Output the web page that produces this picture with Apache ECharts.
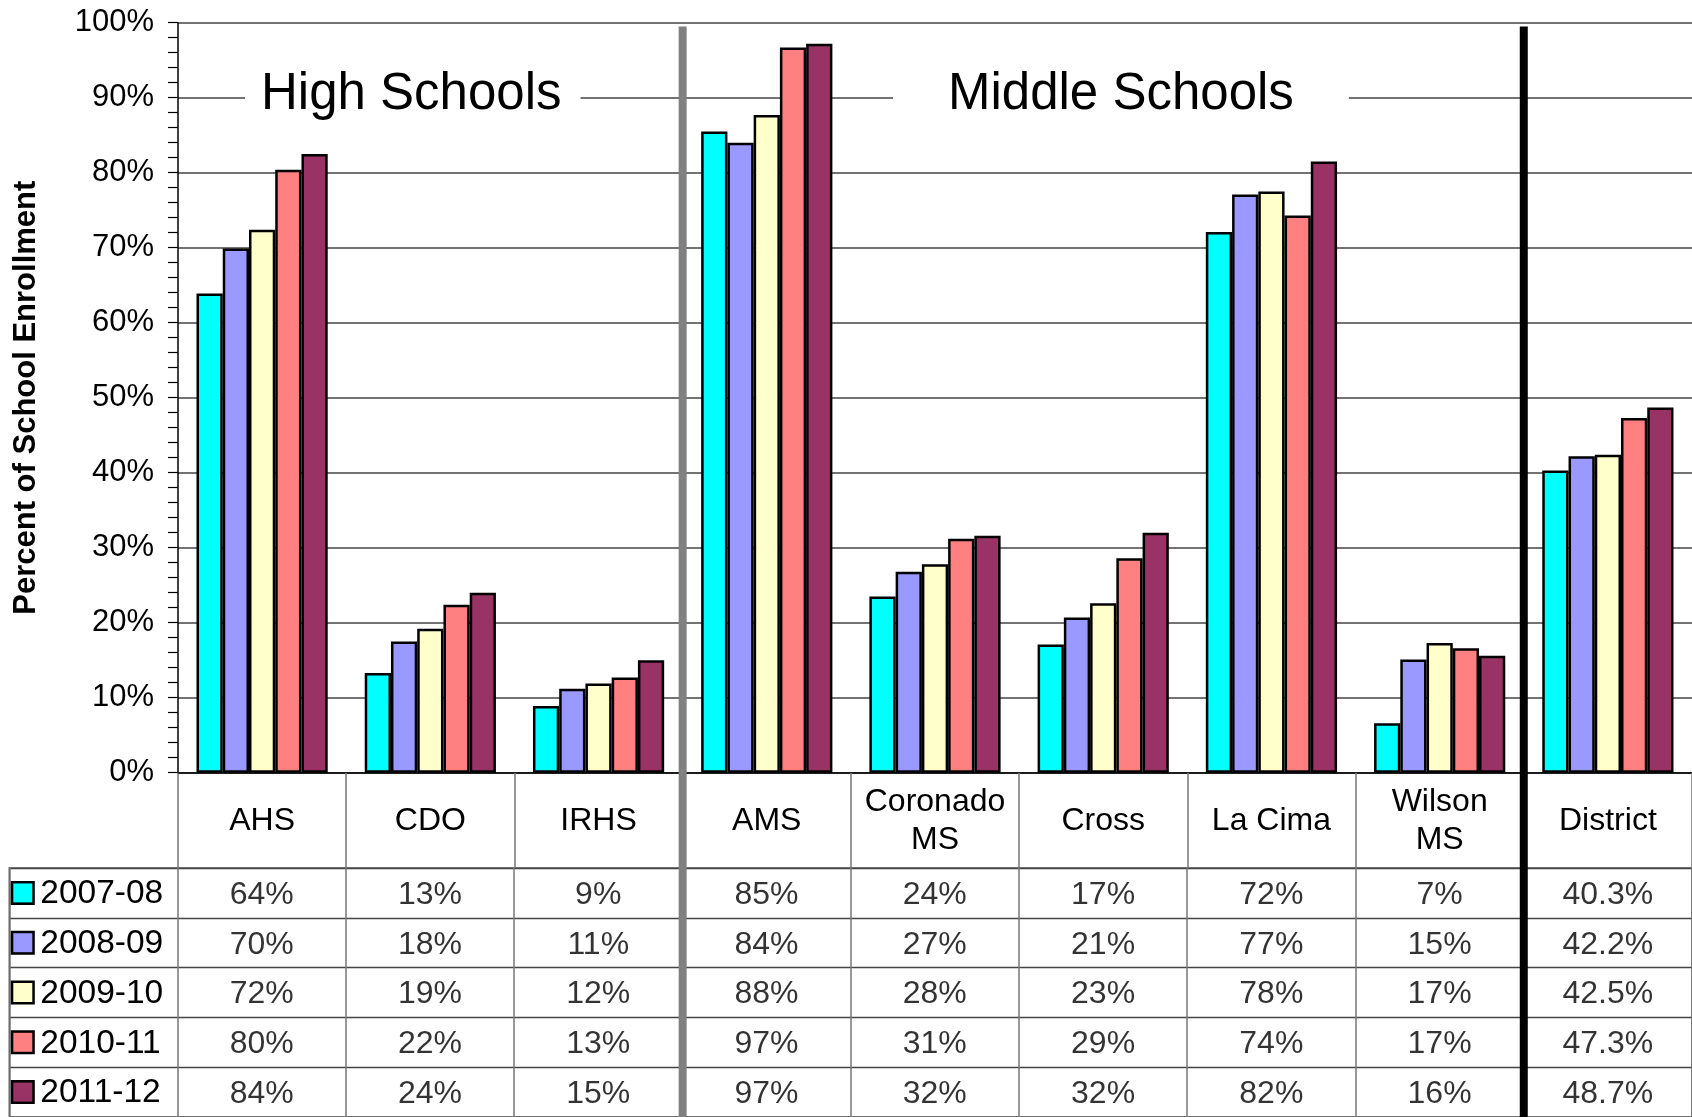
<!DOCTYPE html>
<html>
<head>
<meta charset="utf-8">
<script src="https://cdn.jsdelivr.net/npm/echarts@6.0.0/dist/echarts.min.js"></script>
<style>
html,body{margin:0;padding:0;background:#fff;}
#chart{width:1692px;height:1117px;}
</style>
</head>
<body>
<div id="chart"></div>
<script>
// ---- data ----
const categories = ['AHS', 'CDO', 'IRHS', 'AMS', 'Coronado\nMS', 'Cross', 'La Cima', 'Wilson\nMS', 'District'];
const years = ['2007-08', '2008-09', '2009-10', '2010-11', '2011-12'];
const v2007 = [63.9, 13.3, 8.9, 85.5, 23.5, 17.1, 72.1, 6.6, 40.3];
const v2008 = [69.9, 17.5, 11.2, 84.0, 26.8, 20.7, 77.1, 15.1, 42.2];
const v2009 = [72.4, 19.2, 11.9, 87.7, 27.8, 22.6, 77.5, 17.3, 42.4];
const v2010 = [80.4, 22.4, 12.7, 96.7, 31.2, 28.6, 74.3, 16.6, 47.3];
const v2011 = [82.5, 24.0, 15.0, 97.2, 31.6, 32.0, 81.5, 15.6, 48.7];
const t2007 = ['64%', '13%', '9%', '85%', '24%', '17%', '72%', '7%', '40.3%'];
const t2008 = ['70%', '18%', '11%', '84%', '27%', '21%', '77%', '15%', '42.2%'];
const t2009 = ['72%', '19%', '12%', '88%', '28%', '23%', '78%', '17%', '42.5%'];
const t2010 = ['80%', '22%', '13%', '97%', '31%', '29%', '74%', '17%', '47.3%'];
const t2011 = ['84%', '24%', '15%', '97%', '32%', '32%', '82%', '16%', '48.7%'];
const groupTitles = ['High Schools', 'Middle Schools'];
const dividers = [3, 8]; // category boundaries where the section separators sit

// ---- styling ----
const colors = ['#00FFFF', '#9999FF', '#FFFFCC', '#FF8080', '#993366'];
const FONT = '"Liberation Sans", Arial, sans-serif';
const seriesValues = [v2007, v2008, v2009, v2010, v2011];
const tableLabels = [t2007, t2008, t2009, t2010, t2011];

const catW = 168.7;
const plotLeft = 178, plotTop = 22.7, plotH = 750;
const headerH = 95.3, rowH = 50.5;

const chart = echarts.init(document.getElementById('chart'), null, {renderer: 'canvas'});

const barSeries = years.map((y, i) => ({
  name: y,
  type: 'bar',
  xAxisIndex: 0,
  yAxisIndex: 0,
  data: seriesValues[i],
  barGap: '0%',
  barCategoryGap: '22%',
  itemStyle: {color: colors[i], borderColor: '#000', borderWidth: 2.5},
  emphasis: {disabled: true}
}));

const cellData = [];
tableLabels.forEach((row, r) => row.forEach((txt, c) => cellData.push([c + 1, r, txt])));

const rich = {t: {fontSize: 33.5, fontFamily: FONT, color: '#000', padding: [2, 0, 0, 8]}};
colors.forEach((c, i) => {
  rich['sq' + i] = {width: 19, height: 19, backgroundColor: c, borderColor: '#000', borderWidth: 2.5};
});

const option = {
  animation: false,
  textStyle: {fontFamily: FONT},
  grid: [
    {left: plotLeft, top: plotTop, width: catW * 9, height: plotH},
    {left: plotLeft - catW, top: plotTop + plotH + headerH, width: catW * 10, height: rowH * 5,
     show: true, borderColor: '#555', borderWidth: 1.5, backgroundColor: 'transparent'}
  ],
  xAxis: [
    {
      type: 'category', gridIndex: 0, data: categories,
      axisLine: {show: true, lineStyle: {color: '#000', width: 1.5}},
      axisTick: {show: true, interval: 0, length: headerH, lineStyle: {color: '#777', width: 1.5}},
      axisLabel: {interval: 0, fontSize: 32, color: '#000', fontFamily: FONT,
                  margin: headerH / 2 + 1, verticalAlign: 'middle', lineHeight: 38},
      splitLine: {show: false}
    },
    {type: 'value', gridIndex: 0, min: 0, max: 9, show: false},
    {
      type: 'category', gridIndex: 1, data: [''].concat(categories),
      axisLine: {show: false}, axisTick: {show: false}, axisLabel: {show: false},
      splitLine: {show: true, interval: 0, lineStyle: {color: '#777', width: 1.5}}
    }
  ],
  yAxis: [
    {
      type: 'value', gridIndex: 0, min: 0, max: 100, interval: 10,
      name: 'Percent of School Enrollment', nameLocation: 'middle', nameRotate: 90, nameGap: 136,
      nameTextStyle: {fontSize: 31, fontWeight: 'bold', color: '#000', fontFamily: FONT},
      axisLine: {show: true, lineStyle: {color: '#000', width: 1.5}},
      axisTick: {show: true, length: 10, lineStyle: {color: '#000', width: 1.2}},
      minorTick: {show: true, splitNumber: 5, length: 10, lineStyle: {color: '#000', width: 1.2}},
      axisLabel: {formatter: '{value}%', fontSize: 31, color: '#000', margin: 24, fontFamily: FONT},
      splitLine: {show: true, lineStyle: {color: '#444', width: 1.5}}
    },
    {
      type: 'category', gridIndex: 1, data: years, inverse: true,
      axisLine: {show: false}, axisTick: {show: false},
      axisLabel: {show: true, inside: true, margin: 4, align: 'left', interval: 0,
                  formatter: (v, i) => '{sq' + i + '|}{t|' + v + '}', rich: rich},
      splitLine: {show: true, interval: 0, lineStyle: {color: '#444', width: 1.3}}
    }
  ],
  series: barSeries.concat([
    {
      type: 'scatter', xAxisIndex: 2, yAxisIndex: 1,
      data: cellData, symbolSize: 1, itemStyle: {color: 'rgba(0,0,0,0)'},
      silent: true,
      label: {show: true, position: 'inside', offset: [0, 2], formatter: p => p.data[2],
              fontSize: 32, color: '#000', fontFamily: FONT}
    },
    {
      type: 'custom', xAxisIndex: 1, yAxisIndex: 0, z: 20, silent: true, clip: false,
      data: dividers.map(d => [d, 99.5]),
      renderItem: (params, api) => {
        const top = api.coord([api.value(0), api.value(1)]);
        return {
          type: 'line',
          shape: {x1: top[0], y1: top[1], x2: top[0], y2: api.getHeight()},
          style: {stroke: params.dataIndex === 0 ? '#808080' : '#000', lineWidth: 8}
        };
      }
    }
  ]),
  graphic: [
    {type: 'text', x: 245, y: 95, z: 50,
     style: {text: groupTitles[0], font: '51px ' + FONT, fill: '#000', backgroundColor: '#fff',
             padding: [2, 19, 2, 16], verticalAlign: 'middle', align: 'left'}},
    {type: 'text', x: 893, y: 95, z: 50,
     style: {text: groupTitles[1], font: '51px ' + FONT, fill: '#000', backgroundColor: '#fff',
             padding: [2, 55, 2, 55], verticalAlign: 'middle', align: 'left'}}
  ]
};
chart.setOption(option);
</script>
</body>
</html>
